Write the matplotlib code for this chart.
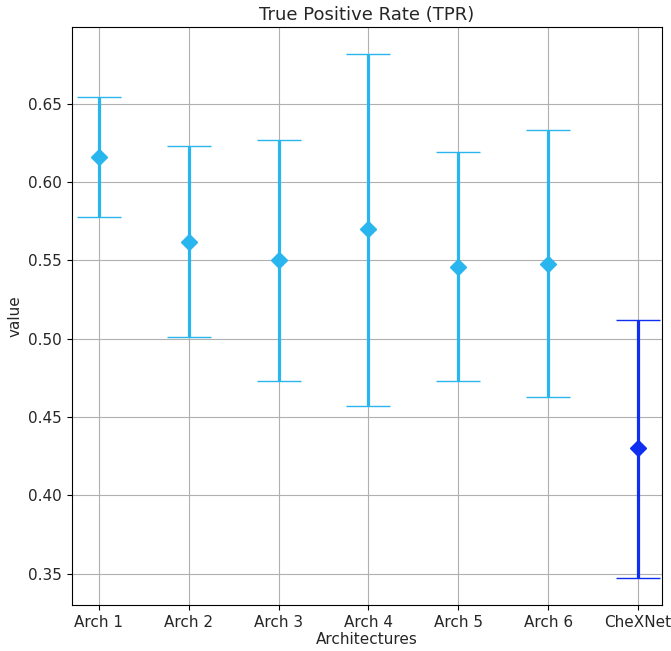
import numpy as np
import matplotlib.pyplot as plt

architectures = ['Arch 1', 'Arch 2', 'Arch 3', 'Arch 4', 'Arch 5', 'Arch 6', 'CheXNet']
tpr_mean = [0.616, 0.562, 0.550, 0.570, 0.546, 0.548, 0.430]
tpr_low = [0.578, 0.501, 0.473, 0.457, 0.473, 0.463, 0.347]
tpr_high = [0.654, 0.623, 0.627, 0.682, 0.619, 0.633, 0.512]
point_colors = ['#29b6ef'] * 6 + ['#0f2ef0']
cap_colors = ['#46bff0'] * 6 + ['#3a55f0']

fig = plt.figure(figsize=(6.71, 6.51), dpi=100)
axis = fig.add_axes([0.107, 0.0707, 0.880, 0.8878])

x = np.arange(len(architectures))
for i in x:
    mean = tpr_mean[i]
    err = [[mean - tpr_low[i]], [tpr_high[i] - mean]]
    _, caps, bars = axis.errorbar(i, mean, yerr=err, fmt='D', color=point_colors[i],
                                  markersize=8, elinewidth=2.3, capsize=16, capthick=1, zorder=3)
    for cap in caps:
        cap.set_color(cap_colors[i])

axis.set_xticks(x)
axis.set_xticklabels(architectures)
axis.set_xlim(-0.3, 6.27)
axis.set_ylim(0.330, 0.699)
axis.set_yticks([0.35, 0.40, 0.45, 0.50, 0.55, 0.60, 0.65])
axis.grid(visible=True, color='#b0b0b0', linewidth=0.8)
axis.set_axisbelow(True)
axis.tick_params(labelsize=11, labelcolor='#262626')
axis.set_xlabel('Architectures', fontsize=11, labelpad=2, color='#262626')
axis.set_ylabel('value', fontsize=11, color='#262626')
axis.set_title('True Positive Rate (TPR)', fontsize=13, pad=5, color='#262626')

plt.savefig('out.png', dpi=100)
